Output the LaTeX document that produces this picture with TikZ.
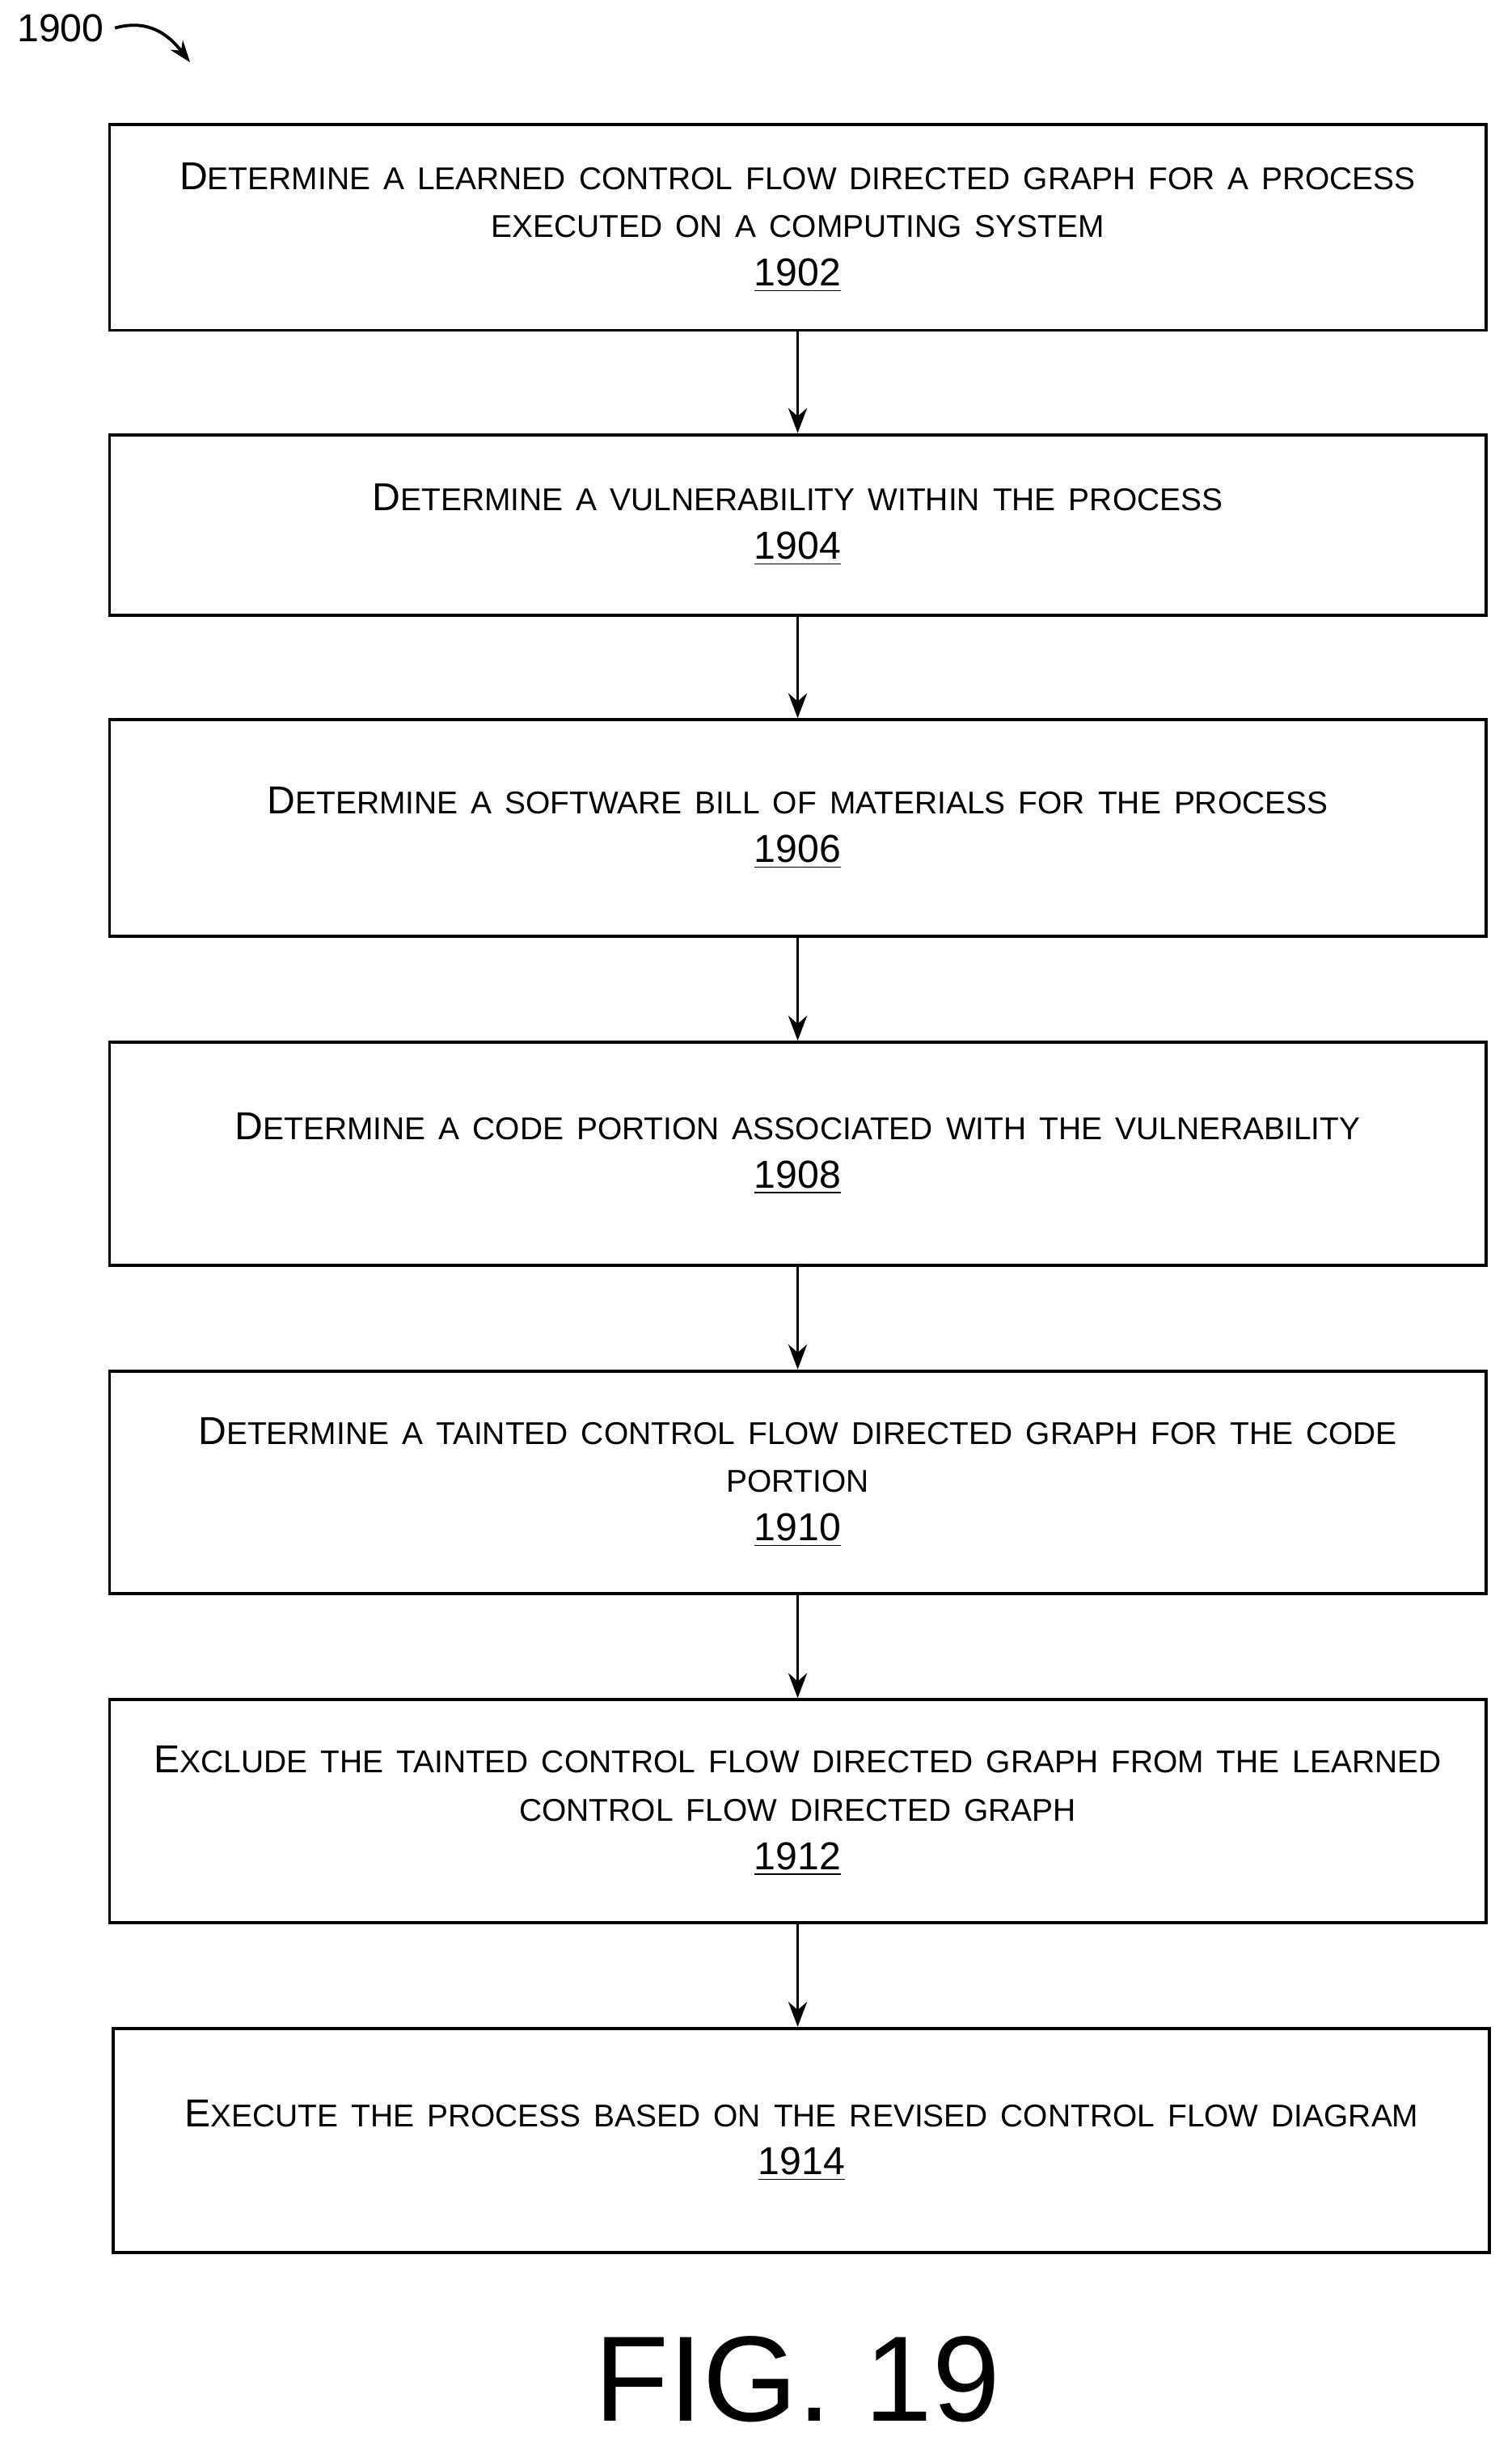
\documentclass[tikz,border=0pt]{standalone}
\usepackage{fontspec}
\setmainfont{Liberation Sans}
\usetikzlibrary{arrows.meta}
\newcommand\lo[1]{{\fontsize{10.1}{15.5}\selectfont #1}}
\newcommand\num[1]{\underline{#1}}
\begin{document}
\begin{tikzpicture}[x=0.5pt,y=-0.5pt,
  box/.style={draw,line width=1pt,rectangle,minimum width=441pt,align=center,text width=435pt,font=\fontsize{12.5}{15.5}\selectfont},
  arr/.style={line width=1pt,-{Stealth[length=8pt,width=6pt]}}]
\useasboundingbox (0,0) rectangle (970,1572);
\node[anchor=west,font=\fontsize{12.5}{15}\selectfont] (lbl) at (4,18) {1900};
\coordinate (lblend) at (122,40);
\draw[line width=1pt,-{Stealth[length=7pt,width=5pt]}] (lbl.east) .. controls (95,12) and (108,22) .. (lblend);
\node[box,minimum height=66pt] (b1) at (512,146) {D\lo{ETERMINE A LEARNED CONTROL FLOW DIRECTED GRAPH FOR A PROCESS}\\\lo{EXECUTED ON A COMPUTING SYSTEM}\\\num{1902}};
\node[box,minimum height=58pt] (b2) at (512,337) {D\lo{ETERMINE A VULNERABILITY WITHIN THE PROCESS}\\\num{1904}};
\node[box,minimum height=69.5pt] (b3) at (512,531.5) {D\lo{ETERMINE A SOFTWARE BILL OF MATERIALS FOR THE PROCESS}\\\num{1906}};
\node[box,minimum height=71.5pt] (b4) at (512,740.5) {D\lo{ETERMINE A CODE PORTION ASSOCIATED WITH THE VULNERABILITY}\\\num{1908}};
\node[box,minimum height=71.5pt] (b5) at (512,951.5) {D\lo{ETERMINE A TAINTED CONTROL FLOW DIRECTED GRAPH FOR THE CODE}\\\lo{PORTION}\\\num{1910}};
\node[box,minimum height=71.5pt] (b6) at (512,1162.5) {E\lo{XCLUDE THE TAINTED CONTROL FLOW DIRECTED GRAPH FROM THE LEARNED}\\\lo{CONTROL FLOW DIRECTED GRAPH}\\\num{1912}};
\node[box,minimum height=72pt] (b7) at (514.5,1374) {E\lo{XECUTE THE PROCESS BASED ON THE REVISED CONTROL FLOW DIAGRAM}\\\num{1914}};
\node[font=\fontsize{39}{46}\selectfont] (fig) at (512,1527) {FIG. 19};
\draw[arr] (b1) -- (b2);
\draw[arr] (b2) -- (b3);
\draw[arr] (b3) -- (b4);
\draw[arr] (b4) -- (b5);
\draw[arr] (b5) -- (b6);
\draw[arr] (b6.south) -- (b6.south |- b7.north);
\end{tikzpicture}
\end{document}
